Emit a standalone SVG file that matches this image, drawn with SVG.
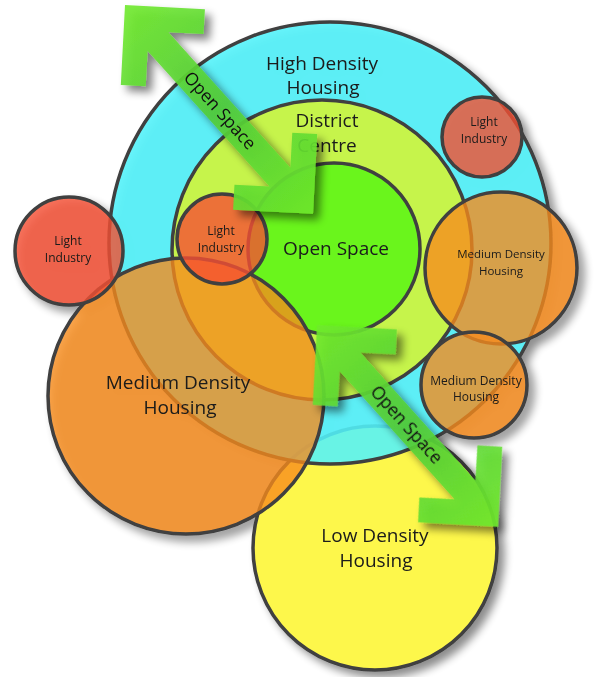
<svg xmlns="http://www.w3.org/2000/svg" width="610" height="677" viewBox="0 0 610 677">
  <style>
    .ring { stroke: #3f3f3f; stroke-width: 3.5; }
    .lbl { font-family: "Open Sans", "Liberation Sans", sans-serif; fill: #1a1a1a; text-anchor: middle; }
    .big { font-size: 19px; }
    .small { font-size: 12px; }
    .mid { font-size: 11.5px; }
    .arrow { fill: url(#greenGrad); fill-opacity: 0.9; }
    .atxt { font-family: "Open Sans", "Liberation Sans", sans-serif; font-size: 17.5px; fill: #111; text-anchor: middle; }
  </style>
  <defs>
    <filter id="shadow" x="-20%" y="-20%" width="140%" height="140%">
      <feGaussianBlur in="SourceAlpha" stdDeviation="4"/>
      <feOffset dx="6" dy="6" result="b"/>
      <feComponentTransfer><feFuncA type="linear" slope="0.45"/></feComponentTransfer>
      <feMerge><feMergeNode/><feMergeNode in="SourceGraphic"/></feMerge>
    </filter>
    <filter id="arrowShadow" x="-30%" y="-30%" width="160%" height="160%">
      <feGaussianBlur in="SourceAlpha" stdDeviation="4"/>
      <feOffset dx="6" dy="6"/>
      <feComponentTransfer><feFuncA type="linear" slope="0.55"/></feComponentTransfer>
      <feMerge><feMergeNode/><feMergeNode in="SourceGraphic"/></feMerge>
    </filter>
    <linearGradient id="greenGrad" x1="0" y1="0" x2="1" y2="0">
      <stop offset="0" stop-color="#70ea2c"/>
      <stop offset="0.5" stop-color="#52cc3a"/>
      <stop offset="1" stop-color="#70ea2c"/>
    </linearGradient>
  </defs>

  <rect width="610" height="677" fill="#ffffff"/>

  <g id="nodes" filter="url(#shadow)">
    <g id="low-density">
      <circle class="ring" cx="375" cy="548" r="122" fill="#fdf74c"/>
      <text class="lbl big" x="375" y="542">Low Density</text>
      <text class="lbl big" x="376" y="567">Housing</text>
    </g>
    <g id="high-density">
      <circle class="ring" cx="330" cy="243" r="221" fill="#52f3fb" fill-opacity="0.88"/>
      <text class="lbl big" x="322" y="70">High Density</text>
      <text class="lbl big" x="323" y="94">Housing</text>
    </g>
    <g id="district-centre">
      <circle class="ring" cx="322" cy="250" r="150" fill="#c6f44c"/>
      <text class="lbl big" x="327" y="127">District</text>
      <text class="lbl big" x="327" y="152">Centre</text>
    </g>
    <g id="open-space">
      <circle class="ring" cx="334" cy="249" r="86" fill="#6af51e"/>
      <text class="lbl big" x="336" y="255">Open Space</text>
    </g>
    <g id="medium-density-left">
      <circle class="ring" cx="186" cy="396" r="138" fill="#f78a1c" fill-opacity="0.78"/>
      <text class="lbl big" x="178" y="389">Medium Density</text>
      <text class="lbl big" x="180" y="414">Housing</text>
    </g>
    <g id="medium-density-right">
      <circle class="ring" cx="501" cy="268" r="76" fill="#f78a1c" fill-opacity="0.78"/>
      <text class="lbl mid" x="501" y="258">Medium Density</text>
      <text class="lbl mid" x="501" y="275">Housing</text>
    </g>
    <g id="medium-density-small">
      <circle class="ring" cx="474" cy="385" r="53" fill="#f78a1c" fill-opacity="0.78"/>
      <text class="lbl small" x="476" y="385">Medium Density</text>
      <text class="lbl small" x="476" y="401">Housing</text>
    </g>
    <g id="light-industry-left">
      <circle class="ring" cx="69" cy="251" r="54" fill="#f55032" fill-opacity="0.8"/>
      <text class="lbl small" x="68" y="245">Light</text>
      <text class="lbl small" x="68" y="262">Industry</text>
    </g>
    <g id="light-industry-top">
      <circle class="ring" cx="482" cy="137" r="40" fill="#f55032" fill-opacity="0.8"/>
      <text class="lbl small" x="484" y="126">Light</text>
      <text class="lbl small" x="484" y="143">Industry</text>
    </g>
    <g id="light-industry-centre">
      <circle class="ring" cx="222" cy="239" r="45" fill="#f55032" fill-opacity="0.8"/>
      <text class="lbl small" x="221" y="235">Light</text>
      <text class="lbl small" x="221" y="252">Industry</text>
    </g>
  </g>

  <!-- double-headed open space corridors -->
  <g id="connectors" filter="url(#arrowShadow)">
    <g transform="translate(125,5) rotate(48)">
      <polygon class="arrow" points="0,0 56.6,-56.6 74.2,-38.9 49.4,-14 231.6,-14 206.8,-38.9 224.4,-56.6 281,0 224.4,56.6 206.8,38.9 231.6,14 49.4,14 74.2,38.9 56.6,56.6"/>
      <text class="atxt" x="142" y="6">Open Space</text>
    </g>
    <g transform="translate(317,325) rotate(48.1)">
      <polygon class="arrow" points="0,0 56.6,-56.6 74.2,-38.9 49.4,-14 221.6,-14 196.8,-38.9 214.4,-56.6 271,0 214.4,56.6 196.8,38.9 221.6,14 49.4,14 74.2,38.9 56.6,56.6"/>
      <text class="atxt" x="134" y="6">Open Space</text>
    </g>
  </g>
</svg>
